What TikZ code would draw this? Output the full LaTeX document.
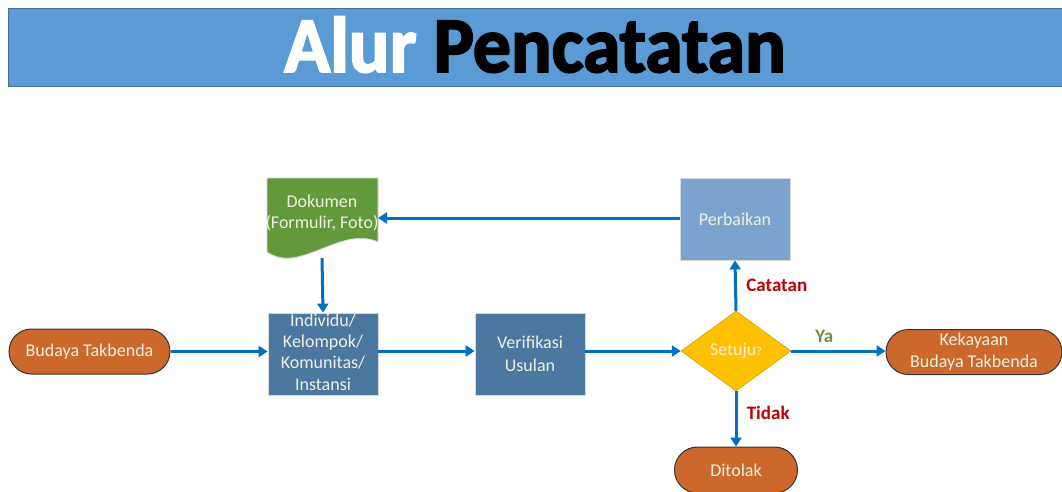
\documentclass[tikz,border=0pt]{standalone}
\usepackage{fontspec}
\setmainfont{Carlito}
\newfontfamily\titlefont[FakeBold=2.5]{Carlito Bold}
\usetikzlibrary{shapes.geometric,arrows.meta}
\definecolor{banner}{RGB}{91,155,213}
\definecolor{bannerline}{RGB}{65,113,156}
\definecolor{docgreen}{RGB}{98,153,58}
\definecolor{lightblue}{RGB}{122,163,206}
\definecolor{steel}{RGB}{74,120,160}
\definecolor{amber}{RGB}{255,192,0}
\definecolor{orange}{RGB}{204,104,44}
\definecolor{arrowblue}{RGB}{0,112,192}
\definecolor{txt}{RGB}{240,240,225}
\definecolor{darkred}{RGB}{192,0,0}
\definecolor{olive}{RGB}{118,146,60}
\tikzset{
  box/.style={draw=black!15, line width=0.8pt, minimum width=110pt, minimum height=82pt, text=txt, font=\fontsize{18}{23}\selectfont, align=center, inner sep=0pt},
  term/.style={draw=black!80, line width=1pt, fill=orange, rounded corners=22.5pt, minimum height=45pt, text=txt, font=\fontsize{18}{22}\selectfont, align=center, inner sep=0pt},
  flow/.style={draw=arrowblue, line width=3pt, -{Triangle[length=9pt,width=11pt]}},
  lbl/.style={font=\bfseries\fontsize{19}{22}\selectfont}
}
\begin{document}
\begin{tikzpicture}[x=1pt,y=-1pt]
\useasboundingbox (0,0) rectangle (1062,491);
\fill[white] (0,0) rectangle (1062,491);
% banner
\draw[fill=banner, draw=bannerline, line width=1pt] (8,8) rectangle (1066,86);
\node[font=\titlefont\fontsize{79}{80}\selectfont, anchor=base, inner sep=0pt] (title) at (535,72) {\scalebox{0.96}[1]{\textcolor{white}{Alur} \textcolor{black}{Pencatatan}}};
% document shape
\draw[fill=docgreen, draw=black!15, line width=0.8pt] (267,178) -- (378,178) -- (378,242) .. controls (340,225) and (300,275) .. (267,252) -- cycle;
\node[text=txt, font=\fontsize{18}{21}\selectfont, align=center, inner sep=0pt] (dok) at (322,213) {Dokumen\\(Formulir, Foto)};
\coordinate (dokbot) at (322,258);
\coordinate (dokright) at (378,218);
% boxes
\node[box, fill=lightblue] (perb) at (735,219) {Perbaikan};
\node[box, fill=steel] (indiv) at (323,354) {};
\node[text=txt, font=\fontsize{18}{21.3}\selectfont, align=center, inner sep=0pt] (indivtxt) at (323,352) {Individu/\\Kelompok/\\Komunitas/\\Instansi};
\node[box, fill=steel] (verif) at (530,354) {Verifikasi\\Usulan};
\node[diamond, fill=amber, draw=amber!80!black, line width=0.5pt, minimum width=110pt, minimum height=80pt, aspect=1.375, inner sep=0pt, text=txt, font=\fontsize{18}{21}\selectfont] (setuju) at (736,351) {Setuju{\fontsize{12}{12}\selectfont ?}};
% terminals
\node[term, minimum width=161pt] (budaya) at (89.5,351.5) {Budaya Takbenda};
\node[term, minimum width=176pt] (kekay) at (974,352) {Kekayaan\\Budaya Takbenda};
\node[term, minimum width=123pt, minimum height=46pt, rounded corners=23pt] (ditolak) at (736,470) {Ditolak};
% arrows
\draw[flow] (budaya.east) -- (budaya.east -| indiv.west);
\draw[flow] (indiv.east |- setuju.west) -- (verif.west |- setuju.west);
\draw[flow] (verif.east |- setuju.west) -- (setuju.west);
\draw[flow] (setuju.east) -- node[lbl, text=olive, above=4pt, pos=0.35] (ya) {Ya} (setuju.east -| kekay.west);
\draw[flow] (setuju.north) -- node[lbl, text=darkred, right=6pt] (cat) {Catatan} (perb.south);
\draw[flow] (setuju.south) -- node[lbl, text=darkred, right=6pt, pos=0.4] (tidak) {Tidak} (ditolak.north);
\draw[flow] (perb.west |- dokright) -- (dokright);
\draw[flow] (dokbot) -- (indiv.north);
\end{tikzpicture}
\end{document}
